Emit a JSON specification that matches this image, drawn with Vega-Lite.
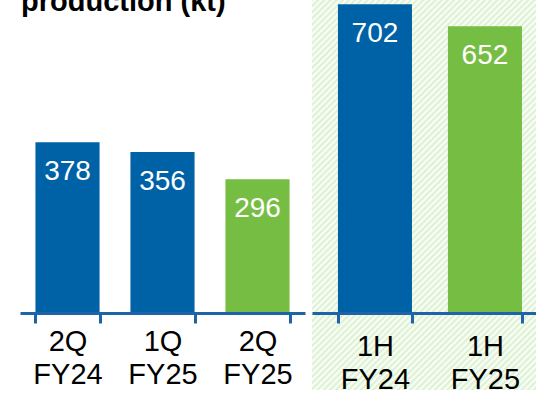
{
 "$schema": "https://vega.github.io/schema/vega-lite/v6.json",
 "padding": {"left": 20, "top": -12, "right": -4, "bottom": 0},
 "background": "white",
 "title": {"text": "production (kt)", "anchor": "start", "font": "Liberation Sans", "fontSize": 29, "fontWeight": "bold", "color": "black", "offset": -17, "dx": 1},
 "datasets": {
  "quarters": [
   {"period": "2Q FY24", "value": 378, "kind": "prior"},
   {"period": "1Q FY25", "value": 356, "kind": "prior"},
   {"period": "2Q FY25", "value": 296, "kind": "current"}
  ],
  "halves": [
   {"period": "1H FY24", "value": 702, "kind": "prior"},
   {"period": "1H FY25", "value": 652, "kind": "current"}
  ],
  "panel": [{"panel": "half-year"}]
 },
 "spacing": 7,
 "bounds": "flush",
 "hconcat": [
  {
   "width": 285,
   "height": 313,
   "data": {"name": "quarters"},
   "encoding": {
    "x": {"field": "period", "type": "nominal", "sort": null,
          "scale": {"paddingInner": 0.325, "paddingOuter": 0.1625},
          "axis": {"title": null, "labelAngle": 0, "labelExpr": "datum.value ? split(datum.value, ' ') : ''", "labelLineHeight": 33,
                   "labelFont": "Liberation Sans", "labelFontSize": 29, "labelColor": "black", "labelPadding": 4,
                   "domainColor": "#1F63A8", "domainWidth": 3, "tickColor": "#1F63A8", "tickWidth": 3, "tickSize": 10,
                   "tickBand": "extent", "zindex": 1}},
    "y": {"field": "value", "type": "quantitative", "scale": {"domain": [0, 692.5]}, "axis": null}
   },
   "layer": [
    {"mark": {"type": "bar"},
     "encoding": {"color": {"field": "kind", "type": "nominal", "scale": {"domain": ["prior", "current"], "range": ["#0062A6", "#76BE43"]}, "legend": null}}},
    {"mark": {"type": "text", "dy": 30, "color": "white", "font": "Liberation Sans", "fontSize": 28},
     "encoding": {"text": {"field": "value", "type": "quantitative"}}}
   ]
  },
  {
   "width": 228,
   "height": 390,
   "layer": [
    {"data": {"name": "panel"},
     "mark": {"type": "rect", "fill": {"gradient": "linear", "x1": 0, "y1": 0, "x2": 0.69, "y2": 1.181, "stops": [
{"offset":0,"color":"#d8f0cb"},{"offset":0.005,"color":"#fff"},{"offset":0.01,"color":"#d8f0cb"},{"offset":0.015,"color":"#fff"},{"offset":0.02,"color":"#d8f0cb"},{"offset":0.025,"color":"#fff"},{"offset":0.03,"color":"#d8f0cb"},{"offset":0.035,"color":"#fff"},{"offset":0.04,"color":"#d8f0cb"},{"offset":0.045,"color":"#fff"},
{"offset":0.05,"color":"#d8f0cb"},{"offset":0.055,"color":"#fff"},{"offset":0.06,"color":"#d8f0cb"},{"offset":0.065,"color":"#fff"},{"offset":0.07,"color":"#d8f0cb"},{"offset":0.075,"color":"#fff"},{"offset":0.08,"color":"#d8f0cb"},{"offset":0.085,"color":"#fff"},{"offset":0.09,"color":"#d8f0cb"},{"offset":0.095,"color":"#fff"},
{"offset":0.1,"color":"#d8f0cb"},{"offset":0.105,"color":"#fff"},{"offset":0.11,"color":"#d8f0cb"},{"offset":0.115,"color":"#fff"},{"offset":0.12,"color":"#d8f0cb"},{"offset":0.125,"color":"#fff"},{"offset":0.13,"color":"#d8f0cb"},{"offset":0.135,"color":"#fff"},{"offset":0.14,"color":"#d8f0cb"},{"offset":0.145,"color":"#fff"},
{"offset":0.15,"color":"#d8f0cb"},{"offset":0.155,"color":"#fff"},{"offset":0.16,"color":"#d8f0cb"},{"offset":0.165,"color":"#fff"},{"offset":0.17,"color":"#d8f0cb"},{"offset":0.175,"color":"#fff"},{"offset":0.18,"color":"#d8f0cb"},{"offset":0.185,"color":"#fff"},{"offset":0.19,"color":"#d8f0cb"},{"offset":0.195,"color":"#fff"},
{"offset":0.2,"color":"#d8f0cb"},{"offset":0.205,"color":"#fff"},{"offset":0.21,"color":"#d8f0cb"},{"offset":0.215,"color":"#fff"},{"offset":0.22,"color":"#d8f0cb"},{"offset":0.225,"color":"#fff"},{"offset":0.23,"color":"#d8f0cb"},{"offset":0.235,"color":"#fff"},{"offset":0.24,"color":"#d8f0cb"},{"offset":0.245,"color":"#fff"},
{"offset":0.25,"color":"#d8f0cb"},{"offset":0.255,"color":"#fff"},{"offset":0.26,"color":"#d8f0cb"},{"offset":0.265,"color":"#fff"},{"offset":0.27,"color":"#d8f0cb"},{"offset":0.275,"color":"#fff"},{"offset":0.28,"color":"#d8f0cb"},{"offset":0.285,"color":"#fff"},{"offset":0.29,"color":"#d8f0cb"},{"offset":0.295,"color":"#fff"},
{"offset":0.3,"color":"#d8f0cb"},{"offset":0.305,"color":"#fff"},{"offset":0.31,"color":"#d8f0cb"},{"offset":0.315,"color":"#fff"},{"offset":0.32,"color":"#d8f0cb"},{"offset":0.325,"color":"#fff"},{"offset":0.33,"color":"#d8f0cb"},{"offset":0.335,"color":"#fff"},{"offset":0.34,"color":"#d8f0cb"},{"offset":0.345,"color":"#fff"},
{"offset":0.35,"color":"#d8f0cb"},{"offset":0.355,"color":"#fff"},{"offset":0.36,"color":"#d8f0cb"},{"offset":0.365,"color":"#fff"},{"offset":0.37,"color":"#d8f0cb"},{"offset":0.375,"color":"#fff"},{"offset":0.38,"color":"#d8f0cb"},{"offset":0.385,"color":"#fff"},{"offset":0.39,"color":"#d8f0cb"},{"offset":0.395,"color":"#fff"},
{"offset":0.4,"color":"#d8f0cb"},{"offset":0.405,"color":"#fff"},{"offset":0.41,"color":"#d8f0cb"},{"offset":0.415,"color":"#fff"},{"offset":0.42,"color":"#d8f0cb"},{"offset":0.425,"color":"#fff"},{"offset":0.43,"color":"#d8f0cb"},{"offset":0.435,"color":"#fff"},{"offset":0.44,"color":"#d8f0cb"},{"offset":0.445,"color":"#fff"},
{"offset":0.45,"color":"#d8f0cb"},{"offset":0.455,"color":"#fff"},{"offset":0.46,"color":"#d8f0cb"},{"offset":0.465,"color":"#fff"},{"offset":0.47,"color":"#d8f0cb"},{"offset":0.475,"color":"#fff"},{"offset":0.48,"color":"#d8f0cb"},{"offset":0.485,"color":"#fff"},{"offset":0.49,"color":"#d8f0cb"},{"offset":0.495,"color":"#fff"},
{"offset":0.5,"color":"#d8f0cb"},{"offset":0.505,"color":"#fff"},{"offset":0.51,"color":"#d8f0cb"},{"offset":0.515,"color":"#fff"},{"offset":0.52,"color":"#d8f0cb"},{"offset":0.525,"color":"#fff"},{"offset":0.53,"color":"#d8f0cb"},{"offset":0.535,"color":"#fff"},{"offset":0.54,"color":"#d8f0cb"},{"offset":0.545,"color":"#fff"},
{"offset":0.55,"color":"#d8f0cb"},{"offset":0.555,"color":"#fff"},{"offset":0.56,"color":"#d8f0cb"},{"offset":0.565,"color":"#fff"},{"offset":0.57,"color":"#d8f0cb"},{"offset":0.575,"color":"#fff"},{"offset":0.58,"color":"#d8f0cb"},{"offset":0.585,"color":"#fff"},{"offset":0.59,"color":"#d8f0cb"},{"offset":0.595,"color":"#fff"},
{"offset":0.6,"color":"#d8f0cb"},{"offset":0.605,"color":"#fff"},{"offset":0.61,"color":"#d8f0cb"},{"offset":0.615,"color":"#fff"},{"offset":0.62,"color":"#d8f0cb"},{"offset":0.625,"color":"#fff"},{"offset":0.63,"color":"#d8f0cb"},{"offset":0.635,"color":"#fff"},{"offset":0.64,"color":"#d8f0cb"},{"offset":0.645,"color":"#fff"},
{"offset":0.65,"color":"#d8f0cb"},{"offset":0.655,"color":"#fff"},{"offset":0.66,"color":"#d8f0cb"},{"offset":0.665,"color":"#fff"},{"offset":0.67,"color":"#d8f0cb"},{"offset":0.675,"color":"#fff"},{"offset":0.68,"color":"#d8f0cb"},{"offset":0.685,"color":"#fff"},{"offset":0.69,"color":"#d8f0cb"},{"offset":0.695,"color":"#fff"},
{"offset":0.7,"color":"#d8f0cb"},{"offset":0.705,"color":"#fff"},{"offset":0.71,"color":"#d8f0cb"},{"offset":0.715,"color":"#fff"},{"offset":0.72,"color":"#d8f0cb"},{"offset":0.725,"color":"#fff"},{"offset":0.73,"color":"#d8f0cb"},{"offset":0.735,"color":"#fff"},{"offset":0.74,"color":"#d8f0cb"},{"offset":0.745,"color":"#fff"},
{"offset":0.75,"color":"#d8f0cb"},{"offset":0.755,"color":"#fff"},{"offset":0.76,"color":"#d8f0cb"},{"offset":0.765,"color":"#fff"},{"offset":0.77,"color":"#d8f0cb"},{"offset":0.775,"color":"#fff"},{"offset":0.78,"color":"#d8f0cb"},{"offset":0.785,"color":"#fff"},{"offset":0.79,"color":"#d8f0cb"},{"offset":0.795,"color":"#fff"},
{"offset":0.8,"color":"#d8f0cb"},{"offset":0.805,"color":"#fff"},{"offset":0.81,"color":"#d8f0cb"},{"offset":0.815,"color":"#fff"},{"offset":0.82,"color":"#d8f0cb"},{"offset":0.825,"color":"#fff"},{"offset":0.83,"color":"#d8f0cb"},{"offset":0.835,"color":"#fff"},{"offset":0.84,"color":"#d8f0cb"},{"offset":0.845,"color":"#fff"},
{"offset":0.85,"color":"#d8f0cb"},{"offset":0.855,"color":"#fff"},{"offset":0.86,"color":"#d8f0cb"},{"offset":0.865,"color":"#fff"},{"offset":0.87,"color":"#d8f0cb"},{"offset":0.875,"color":"#fff"},{"offset":0.88,"color":"#d8f0cb"},{"offset":0.885,"color":"#fff"},{"offset":0.89,"color":"#d8f0cb"},{"offset":0.895,"color":"#fff"},
{"offset":0.9,"color":"#d8f0cb"},{"offset":0.905,"color":"#fff"},{"offset":0.91,"color":"#d8f0cb"},{"offset":0.915,"color":"#fff"},{"offset":0.92,"color":"#d8f0cb"},{"offset":0.925,"color":"#fff"},{"offset":0.93,"color":"#d8f0cb"},{"offset":0.935,"color":"#fff"},{"offset":0.94,"color":"#d8f0cb"},{"offset":0.945,"color":"#fff"},
{"offset":0.95,"color":"#d8f0cb"},{"offset":0.955,"color":"#fff"},{"offset":0.96,"color":"#d8f0cb"},{"offset":0.965,"color":"#fff"},{"offset":0.97,"color":"#d8f0cb"},{"offset":0.975,"color":"#fff"},{"offset":0.98,"color":"#d8f0cb"},{"offset":0.985,"color":"#fff"},{"offset":0.99,"color":"#d8f0cb"},{"offset":0.995,"color":"#fff"},
{"offset":1,"color":"#d8f0cb"}
     ]}},
     "encoding": {}},
    {"data": {"name": "halves"},
     "encoding": {
      "x": {"field": "period", "type": "nominal", "sort": null,
            "scale": {"paddingInner": 0.327, "paddingOuter": 0.2, "align": 0.59},
            "axis": {"title": null, "labelAngle": 0, "labelExpr": "datum.value ? split(datum.value, ' ') : ''", "labelLineHeight": 33,
                     "labelFont": "Liberation Sans", "labelFontSize": 29, "labelColor": "black", "labelPadding": 9,
                     "domainColor": "#1F63A8", "domainWidth": 3, "tickColor": "#1F63A8", "tickWidth": 3, "tickSize": 10,
                     "tickBand": "extent", "offset": -77, "zindex": 1}},
      "y": {"field": "value", "type": "quantitative", "scale": {"domain": [-175, 711.4]}, "axis": null}
     },
     "layer": [
      {"mark": {"type": "bar"},
       "encoding": {"color": {"field": "kind", "type": "nominal", "scale": {"domain": ["prior", "current"], "range": ["#0062A6", "#76BE43"]}, "legend": null}}},
      {"mark": {"type": "text", "dy": 30, "color": "white", "font": "Liberation Sans", "fontSize": 28},
       "encoding": {"text": {"field": "value", "type": "quantitative"}}}
     ]}
   ]
  }
 ],
 "config": {"view": {"stroke": null}}
}
